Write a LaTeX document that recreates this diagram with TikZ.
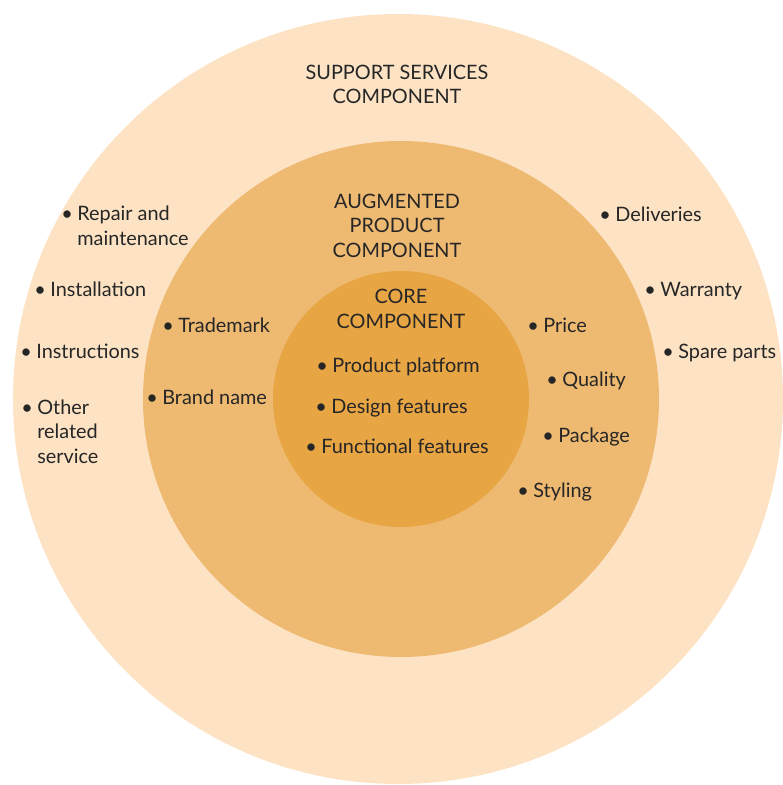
\documentclass[tikz,border=0pt]{standalone}
\usepackage{fontspec}
\setmainfont{Lato}
\usepackage{xcolor}
\usepackage{tikz}
\definecolor{ringouter}{RGB}{253,227,196}
\definecolor{ringmid}{RGB}{238,186,114}
\definecolor{ringcore}{RGB}{232,165,68}
\colorlet{labeltext}{black!85}
% bullet hanging to the left of an item
\newcommand{\itm}{\llap{\textbullet\hspace{2.6pt}}}

\begin{document}
\begin{tikzpicture}[
    font=\fontsize{11.3pt}{13.9pt}\selectfont,
    every node/.style={inner sep=0pt, text=labeltext},
    layertitle/.style={anchor=base, align=center},
    layeritem/.style={anchor=base west, align=left}]
    \useasboundingbox (-8.0,-7.7) rectangle (7.64,8.0);

    % Three nested product layers
    \fill[ringouter] (-0.04,0.02) circle (7.7);
    \fill[ringmid] (0.02,0.02) circle (5.16);
    \fill[ringcore] (0.02,0.02) circle (2.56);

    % Outer layer: support services (multi-line nodes sit on their last line)
    \node[layertitle] (support) at (-0.06, 5.92) {SUPPORT SERVICES\\COMPONENT};
    \node[layeritem] (repair) at (-6.46, 3.10) {\itm Repair and\\maintenance};
    \node[layeritem] (install) at (-7.0, 2.08) {\itm Installation};
    \node[layeritem] (instruct) at (-7.28, 0.84) {\itm Instructions};
    \node[layeritem] (other) at (-7.26, -1.26) {\itm Other\\related\\service};
    \node[layeritem] (deliver) at (4.30, 3.56) {\itm Deliveries};
    \node[layeritem] (warranty) at (5.20, 2.08) {\itm Warranty};
    \node[layeritem] (spares) at (5.56, 0.84) {\itm Spare parts};

    % Middle layer: augmented product
    \node[layertitle] (augmented) at (-0.06, 2.86) {AUGMENTED\\PRODUCT\\COMPONENT};
    \node[layeritem] (trademark) at (-4.44, 1.36) {\itm Trademark};
    \node[layeritem] (brand) at (-4.76, -0.08) {\itm Brand name};
    \node[layeritem] (price) at (2.86, 1.36) {\itm Price};
    \node[layeritem] (quality) at (3.24, 0.28) {\itm Quality};
    \node[layeritem] (package) at (3.16, -0.84) {\itm Package};
    \node[layeritem] (styling) at (2.66, -1.94) {\itm Styling};

    % Inner layer: core
    \node[layertitle] (core) at (0.02, 1.44) {CORE\\COMPONENT};
    \node[layeritem] (platform) at (-1.36, 0.56) {\itm Product platform};
    \node[layeritem] (design) at (-1.38, -0.26) {\itm Design features};
    \node[layeritem] (function) at (-1.58, -1.06) {\itm Functional features};
\end{tikzpicture}
\end{document}
